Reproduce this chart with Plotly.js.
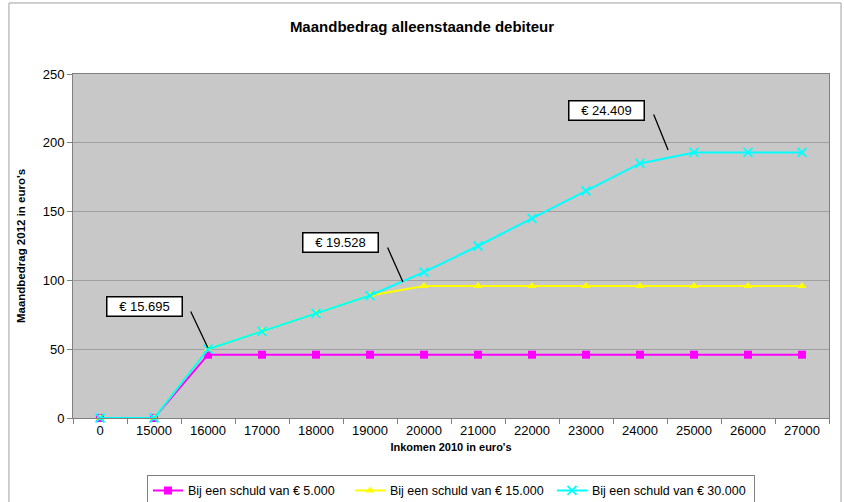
<!DOCTYPE html>
<html>
<head>
<meta charset="utf-8">
<script src="https://cdn.plot.ly/plotly-3.0.1.min.js"></script>
<style>html,body{margin:0;padding:0;background:#fff;}#chart{width:844px;height:502px;}</style>
</head>
<body>
<div id="chart"></div>
<script>
const categories = ['0','15000','16000','17000','18000','19000','20000','21000','22000','23000','24000','25000','26000','27000'];
const schuld5000 = [0,0,46,46,46,46,46,46,46,46,46,46,46,46];
const schuld15000 = [0,0,50,63,76,89,96,96,96,96,96,96,96,96];
const schuld30000 = [0,0,50,63,76,89,106,125,145,165,185,193,193,193];
const seriesNames = ['Bij een schuld van € 5.000','Bij een schuld van € 15.000','Bij een schuld van € 30.000'];
const labelTexts = ['€ 15.695','€ 19.528','€ 24.409'];

const font = 'Arial, "Liberation Sans", sans-serif';
const traces = [
  {x: categories, y: schuld5000, name: seriesNames[0], type: 'scatter', mode: 'lines+markers', cliponaxis: false,
   line: {color: '#FF00FF', width: 2}, marker: {symbol: 'square', size: 8, color: '#FF00FF'}},
  {x: categories, y: schuld15000, name: seriesNames[1], type: 'scatter', mode: 'lines+markers', cliponaxis: false,
   line: {color: '#FFFF00', width: 2}, marker: {symbol: 'triangle-up', size: 8, color: '#FFFF00'}},
  {x: categories, y: schuld30000, name: seriesNames[2], type: 'scatter', mode: 'lines+markers', cliponaxis: false,
   line: {color: '#00FFFF', width: 2}, marker: {symbol: 'x-thin-open', size: 9, color: '#00FFFF', line: {color: '#00FFFF', width: 1.8}}}
];

function box(text, x, y) {
  return {x: x, y: y, xref: 'x', yref: 'y', text: text, showarrow: false,
    font: {family: font, size: 13, color: '#000'}, bgcolor: '#fff', bordercolor: '#000', borderwidth: 1.5,
    width: 72, height: 16, borderpad: 1};
}
function pointer(x, y, ax, ay) {
  return {x: x, y: y, xref: 'x', yref: 'y', text: '', showarrow: true, arrowhead: 0, arrowwidth: 1.3,
    arrowcolor: '#000', ax: ax, ay: ay};
}

const layout = {
  width: 844, height: 502,
  margin: {l: 73, r: 15, t: 74, b: 84, autoexpand: false},
  paper_bgcolor: '#fff', plot_bgcolor: '#C8C8C8',
  showlegend: true,
  title: {text: '<b>Maandbedrag alleenstaande debiteur</b>', font: {family: font, size: 15, color: '#000'},
    x: 0.5, xanchor: 'center', y: 0.946, yanchor: 'middle'},
  xaxis: {type: 'category', range: [-0.5, 13.5], autorange: false, tickson: 'boundaries', ticks: 'outside', ticklen: 5, tickcolor: '#808080',
    automargin: false,
    showline: true, linecolor: '#808080', linewidth: 1, mirror: true, showgrid: false,
    tickfont: {family: font, size: 13, color: '#000'},
    title: {text: "<b>Inkomen 2010 in euro's</b>", font: {family: font, size: 11, color: '#000'}, standoff: 6}},
  yaxis: {range: [0, 250], autorange: false, dtick: 50, ticks: 'outside', ticklen: 5, tickcolor: '#808080',
    automargin: false,
    showline: true, linecolor: '#808080', linewidth: 1, mirror: true, showgrid: true, gridcolor: '#A0A0A0', gridwidth: 1,
    zeroline: false, tickfont: {family: font, size: 13, color: '#000'},
    title: {text: "<b>Maandbedrag 2012 in euro's</b>", font: {family: font, size: 11.5, color: '#000'}, standoff: 14}},
  legend: {orientation: 'h', x: 0.5, xanchor: 'center', y: -0.165, yanchor: 'top',
    bordercolor: '#808080', borderwidth: 1, font: {family: font, size: 12.5, color: '#000'},
    itemwidth: 30, entrywidth: 157, entrywidthmode: 'pixels', tracegroupgap: 0},
  annotations: [
    box(labelTexts[0], 0.815, 80.7),
    box(labelTexts[1], 4.45, 127.2),
    box(labelTexts[2], 9.38, 223.5),
    pointer(2.0, 50.9, -18, -38),
    pointer(5.61, 98.8, -16, -36),
    pointer(10.52, 194.8, -15, -37)
  ],
  shapes: [
    {type: 'rect', xref: 'paper', yref: 'paper', x0: -0.0847, x1: 1.0159, y0: -0.3, y1: 1.2064,
     line: {color: '#A0A0A0', width: 1}, fillcolor: 'rgba(0,0,0,0)', layer: 'below'}
  ]
};

Plotly.newPlot('chart', traces, layout, {displayModeBar: false, staticPlot: true});
</script>
</body>
</html>
